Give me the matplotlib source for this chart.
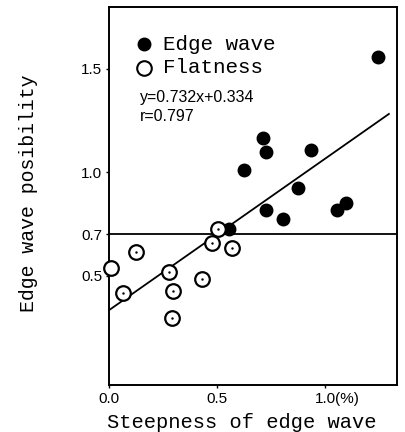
import matplotlib
matplotlib.use("Agg")
import matplotlib.pyplot as plt

# Edge wave points (filled)
edge_x = [1.244, 0.711, 0.725, 0.935, 0.627, 0.873, 0.725, 0.804, 1.057, 1.096, 0.557]
edge_y = [1.556, 1.165, 1.099, 1.110, 1.012, 0.924, 0.819, 0.777, 0.819, 0.854, 0.726]

# Flatness points (open)
flat_x = [0.008, 0.066, 0.125, 0.279, 0.295, 0.290, 0.429, 0.478, 0.506, 0.571]
flat_y = [0.537, 0.416, 0.617, 0.518, 0.428, 0.296, 0.484, 0.661, 0.726, 0.634]

# regression y = 0.732x + 0.334
slope = 0.732
intercept = 0.334
fit_x = [0.0, 1.296]
threshold = 0.7

xticks = [0.0, 0.5, 1.0]
xticklabels = ["0.0", "0.5", "1.0"]
yticks = [0.5, 0.7, 1.0, 1.5]
yticklabels = ["0.5", "0.7", "1.0", "1.5"]

mono = "Liberation Mono"
sans = "Liberation Sans"

fig = plt.figure(figsize=(4.05, 4.32), dpi=100)
ax = fig.add_axes([0.269, 0.109, 0.711, 0.875])

ax.plot(fit_x, [slope * v + intercept for v in fit_x], color="black", lw=1.3, zorder=1)
ax.axhline(threshold, color="black", lw=1.3, zorder=1)

ax.plot(edge_x, edge_y, "o", color="black", ms=9, zorder=3)
ax.plot(flat_x, flat_y, "o", mfc="white", mec="black", mew=1.6, ms=10.5, zorder=3, clip_on=False)
ax.plot(flat_x[1:], flat_y[1:], ".", color="black", ms=1.5, zorder=4)

# legend by hand
ax.plot([0.162], [1.62], "o", color="black", ms=9)
ax.plot([0.162], [1.505], "o", mfc="white", mec="black", mew=1.5, ms=10.5)
ax.text(0.25, 1.62, "Edge wave", family=mono, fontsize=15, va="center")
ax.text(0.25, 1.505, "Flatness", family=mono, fontsize=15, va="center")
ax.text(0.144, 1.36, "y=0.732x+0.334", family=sans, fontsize=11.5, va="center")
ax.text(0.144, 1.268, "r=0.797", family=sans, fontsize=11.5, va="center")

ax.set_xlim(0, 1.333)
ax.set_ylim(-0.027, 1.8)
ax.set_xticks(xticks)
ax.set_xticklabels(xticklabels, family=sans, fontsize=11)
ax.set_yticks(yticks)
ax.set_yticklabels(yticklabels, family=sans, fontsize=11)
ax.annotate("(%)", xy=(1.045, 0), xycoords=("data", "axes fraction"),
            xytext=(0, -5), textcoords="offset points",
            family=sans, fontsize=11, va="top")
ax.tick_params(length=2, width=1, pad=3)

for s in ax.spines.values():
    s.set_linewidth(1.4)

ax.set_xlabel("Steepness of edge wave", family=mono, fontsize=14.7)
ax.xaxis.set_label_coords(0.46, -0.075)
ax.set_ylabel("Edge wave posibility", family=mono, fontsize=14.3)
ax.yaxis.set_label_coords(-0.245, 0.507)

fig.savefig("out.png", dpi=100)
